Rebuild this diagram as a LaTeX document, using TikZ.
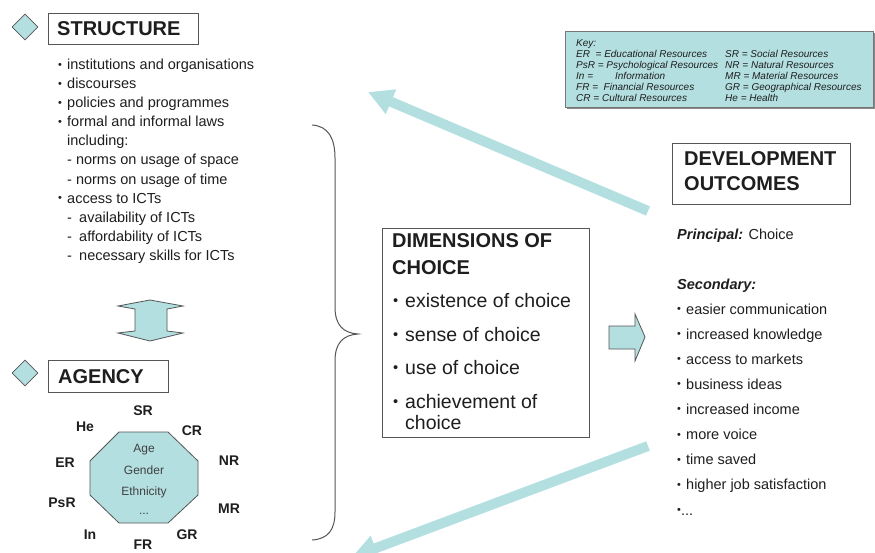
\documentclass[tikz,border=0pt]{standalone}
\usepackage{fontspec}
\usepackage{graphicx}
\setmainfont{Liberation Sans}
\usetikzlibrary{shapes.geometric,arrows.meta}
\definecolor{teal1}{HTML}{B4DFE0}
\definecolor{txt}{HTML}{1E1E1E}
\definecolor{edge}{HTML}{555555}
\newcommand\mybul{\raisebox{0.1em}{\scalebox{0.75}{•}}}
\begin{document}
\begin{tikzpicture}[x=1pt,y=-1pt,
  lst/.style={anchor=base west, inner sep=0pt, text=txt, font=\fontsize{14.5}{17}\selectfont},
  dimt/.style={anchor=base west, inner sep=0pt, text=txt, font=\fontsize{19.5}{22}\selectfont},
  ttl/.style={anchor=base west, inner sep=0pt, text=txt, font=\bfseries\fontsize{20}{23}\selectfont},
  keyt/.style={anchor=base west, inner sep=0pt, text=txt, font=\itshape\fontsize{10}{12}\selectfont},
  lab/.style={inner sep=0pt, text=txt, font=\bfseries\fontsize{14}{16}\selectfont},
  oct/.style={anchor=base, inner sep=0pt, text=txt!85, font=\fontsize{12}{14}\selectfont},
  boxx/.style={draw=edge, line width=0.8pt, fill=white, inner sep=0pt},
  dia/.style={diamond, draw=edge, fill=teal1, inner sep=0pt, minimum width=26pt, minimum height=26pt, line width=0.8pt},
  bigarrow/.style={draw=teal1, line width=10pt, -{Triangle[length=25pt,width=25pt]}},
  blk/.style={draw=edge, fill=teal1, line width=0.8pt, line join=miter}
]
\useasboundingbox (0,0) rectangle (875,553);
\fill[white] (0,0) rectangle (875,553);

% big arrows
\coordinate (ua) at (648,211);
\coordinate (ub) at (368,92);
\coordinate (la) at (648,446);
\coordinate (lb) at (352,557);
\draw[bigarrow] (ua) -- (ub);
\draw[bigarrow] (la) -- (lb);

% STRUCTURE
\node[dia] (d1) at (25,27) {};
\node[boxx, anchor=north west, minimum width=150pt, minimum height=31pt] (sbox) at (48,13) {};
\node[ttl] (stitle) at (57,35.5) {STRUCTURE};

\node[lst] (s1) at (58,69.5) {\makebox[9pt][l]{\mybul}institutions and organisations};
\node[lst] (s2) at (58,88.6) {\makebox[9pt][l]{\mybul}discourses};
\node[lst] (s3) at (58,107.7) {\makebox[9pt][l]{\mybul}policies and programmes};
\node[lst] (s4) at (58,126.8) {\makebox[9pt][l]{\mybul}formal and informal laws};
\node[lst] (s5) at (67,145.9) {including:};
\node[lst] (s6) at (67,165) {- norms on usage of space};
\node[lst] (s7) at (67,184.1) {- norms on usage of time};
\node[lst] (s8) at (58,203.2) {\makebox[9pt][l]{\mybul}access to ICTs};
\node[lst] (s9) at (67,222.3) {\makebox[12pt][l]{-}availability of ICTs};
\node[lst] (s10) at (67,241.4) {\makebox[12pt][l]{-}affordability of ICTs};
\node[lst] (s11) at (67,260.5) {\makebox[12pt][l]{-}necessary skills for ICTs};

% vertical double arrow
\draw[blk] (150,300) -- (183,306) -- (167,309) -- (167,331) -- (183,333) -- (150,341)
  -- (118,333) -- (135,331) -- (135,309) -- (118,306) -- cycle;

% AGENCY
\node[dia] (d2) at (25,373) {};
\node[boxx, anchor=north west, minimum width=120pt, minimum height=32pt] (abox) at (48,360) {};
\node[ttl] (atitle) at (58,383) {AGENCY};

% octagon
\draw[blk] (119,432) -- (168,432) -- (198,461) -- (198,495) -- (168,523) -- (119,523) -- (90,495) -- (90,461) -- cycle;
\node[oct] (o1) at (144,452) {Age};
\node[oct] (o2) at (144,474) {Gender};
\node[oct] (o3) at (144,495) {Ethnicity};
\node[oct] (o4) at (144,514) {...};

\node[lab] (lSR) at (143,411) {SR};
\node[lab] (lHe) at (85,427) {He};
\node[lab] (lCR) at (192,431) {CR};
\node[lab] (lER) at (65,463) {ER};
\node[lab] (lNR) at (229,461) {NR};
\node[lab] (lPsR) at (62,503) {PsR};
\node[lab] (lMR) at (229,509) {MR};
\node[lab] (lIn) at (90,535) {In};
\node[lab] (lGR) at (187,535) {GR};
\node[lab] (lFR) at (143,545) {FR};

% brace
\draw[edge, line width=1pt] (312,125) .. controls (328,126) and (335,138) .. (335,158)
  -- (335,307) .. controls (335,325) and (343,333) .. (358,334)
  .. controls (343,335) and (335,343) .. (335,361)
  -- (335,512) .. controls (335,530) and (328,539) .. (312,540);

% DIMENSIONS OF CHOICE
\node[boxx, anchor=north west, minimum width=207pt, minimum height=209pt] (dbox) at (382,228) {};
\node[ttl] (dt1) at (392,248) {DIMENSIONS OF};
\node[ttl] (dt2) at (392,275) {CHOICE};
\node[dimt] (c1) at (393,307) {\makebox[12pt][l]{\mybul}existence of choice};
\node[dimt] (c2) at (393,341) {\makebox[12pt][l]{\mybul}sense of choice};
\node[dimt] (c3) at (393,374) {\makebox[12pt][l]{\mybul}use of choice};
\node[dimt] (c4) at (393,408) {\makebox[12pt][l]{\mybul}achievement of};
\node[dimt] (c5) at (405,429) {choice};

% right block arrow
\draw[blk] (609,326) -- (635,326) -- (635,314) -- (645,337) -- (635,361) -- (635,349) -- (609,349) -- cycle;

% KEY
\fill[edge!70] (567,33) rectangle (875,109);
\node[draw=edge!80, fill=teal1, line width=0.6pt, anchor=north west, minimum width=308pt, minimum height=76pt, inner sep=0pt] (kbox) at (565,31) {};
\node[keyt] (k0) at (576,46.5) {Key:};
\node[keyt] (k1) at (576,57.5) {ER\ \ = Educational Resources};
\node[keyt] (k2) at (576,68.5) {PsR = Psychological Resources};
\node[keyt] (k3) at (576,79.5) {In =\hspace{2.2em}Information};
\node[keyt] (k4) at (576,90.5) {FR =\ \ Financial Resources};
\node[keyt] (k5) at (576,101.5) {CR = Cultural Resources};
\node[keyt] (k6) at (725,57.5) {SR = Social Resources};
\node[keyt] (k7) at (725,68.5) {NR = Natural Resources};
\node[keyt] (k8) at (725,79.5) {MR = Material Resources};
\node[keyt] (k9) at (725,90.5) {GR = Geographical Resources};
\node[keyt] (k10) at (725,101.5) {He = Health};

% DEVELOPMENT OUTCOMES
\node[boxx, anchor=north west, minimum width=178pt, minimum height=61pt] (obox) at (672,143) {};
\node[ttl] (ot1) at (684,166) {DEVELOPMENT};
\node[ttl] (ot2) at (684,191) {OUTCOMES};
\node[lst] (p1) at (677,240) {\textbf{\textit{Principal:}} Choice};
\node[lst] (p2) at (677,289) {\textbf{\textit{Secondary:}}};
\foreach \t [count=\i] in {easier communication, increased knowledge, access to markets, business ideas, increased income, more voice, time saved, higher job satisfaction}
  \node[lst] (e\i) at (677,{314+25.1*(\i-1)}) {\makebox[9pt][l]{\mybul}\t};
\node[lst] (e9) at (677,515) {\mybul...};
\end{tikzpicture}
\end{document}
